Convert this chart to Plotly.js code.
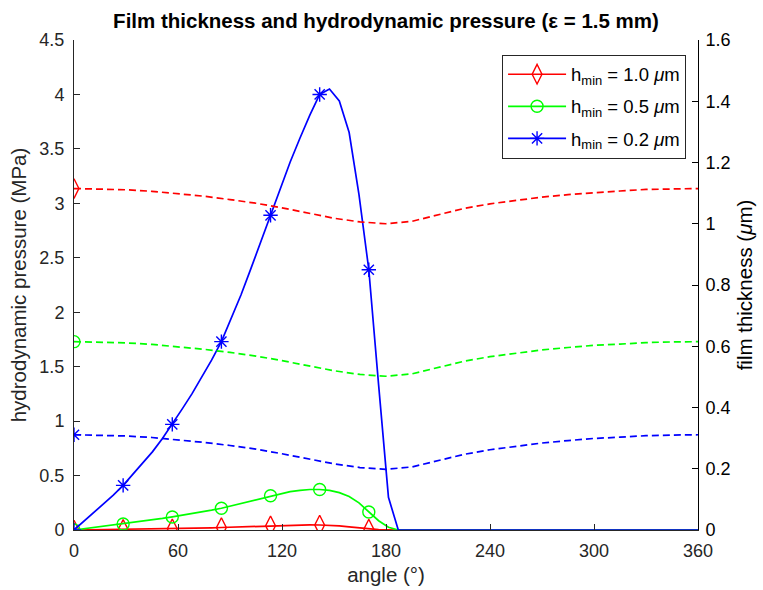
<!DOCTYPE html>
<html><head><meta charset="utf-8">
<script src="https://cdn.plot.ly/plotly-3.0.1.min.js"></script>
<style>html,body{margin:0;padding:0;background:#fff}</style>
</head><body><div id="chart" style="width:763px;height:590px"></div>
<script>
// pressure (MPa) vs angle (deg)
const pAngle = [0, 5.67, 11.34, 17.01, 22.68, 28.35, 34.02, 39.69, 45.35, 51.02, 56.70, 62.36, 68.03, 73.70, 79.37, 85.04, 90.71, 96.38, 102.05, 107.72, 113.39, 119.06, 124.72, 130.39, 136.06, 141.73, 147.40, 153.07, 158.74, 164.41, 170.08, 175.75, 181.42, 187.09, 360];
const pRed   = [0, 0.001, 0.002, 0.003, 0.004, 0.005, 0.006, 0.007, 0.008, 0.009, 0.011, 0.013, 0.015, 0.017, 0.020, 0.023, 0.026, 0.029, 0.033, 0.036, 0.039, 0.042, 0.045, 0.046, 0.047, 0.046, 0.043, 0.037, 0.029, 0.019, 0.009, 0.003, 0.001, 0, 0];
const pGreen = [0, 0.011, 0.022, 0.033, 0.044, 0.055, 0.067, 0.079, 0.092, 0.106, 0.120, 0.134, 0.149, 0.165, 0.182, 0.200, 0.222, 0.245, 0.269, 0.293, 0.315, 0.335, 0.352, 0.364, 0.372, 0.372, 0.364, 0.343, 0.308, 0.249, 0.165, 0.085, 0.025, 0, 0];
const pBlue  = [0, 0.08, 0.16, 0.24, 0.32, 0.41, 0.51, 0.61, 0.72, 0.84, 0.97, 1.11, 1.25, 1.40, 1.56, 1.73, 1.94, 2.16, 2.40, 2.64, 2.89, 3.14, 3.38, 3.60, 3.81, 4.00, 4.05, 3.94, 3.65, 3.08, 2.39, 1.33, 0.30, 0, 0];

// film thickness (um) vs angle (deg)
const tAngle = [0, 15, 30, 45, 60, 75, 90, 105, 120, 135, 150, 165, 180, 195, 210, 225, 240, 255, 270, 285, 300, 315, 330, 345, 360];
const tRed   = [1.115, 1.114, 1.111, 1.106, 1.099, 1.090, 1.079, 1.067, 1.052, 1.035, 1.018, 1.006, 1.000, 1.008, 1.030, 1.050, 1.065, 1.077, 1.087, 1.095, 1.102, 1.107, 1.112, 1.114, 1.115];
const tGreen = [0.615, 0.614, 0.611, 0.606, 0.599, 0.590, 0.580, 0.568, 0.553, 0.536, 0.520, 0.508, 0.502, 0.510, 0.531, 0.551, 0.566, 0.578, 0.588, 0.596, 0.603, 0.607, 0.612, 0.614, 0.615];
const tBlue  = [0.311, 0.310, 0.307, 0.302, 0.295, 0.286, 0.276, 0.264, 0.249, 0.232, 0.216, 0.204, 0.198, 0.206, 0.227, 0.247, 0.262, 0.274, 0.284, 0.292, 0.299, 0.303, 0.308, 0.310, 0.311];

const seriesNames = ['h<sub>min</sub> = 1.0 <i>μ</i>m', 'h<sub>min</sub> = 0.5 <i>μ</i>m', 'h<sub>min</sub> = 0.2 <i>μ</i>m'];
const colors = ['#FF0000', '#00FF00', '#0000FF'];
const symbols = ['diamond-tall-open', 'circle-open', 'asterisk-open'];
const msizes = [14, 12, 12];

const pSeries = [pRed, pGreen, pBlue];
const tSeries = [tRed, tGreen, tBlue];

const traces = [];
// thickness dashed curves (right axis)
tSeries.forEach((t, k) => {
  traces.push({x: tAngle, y: t, yaxis: 'y2', mode: 'lines', showlegend: false,
    line: {color: colors[k], width: 1.7, dash: '7px,4px'}, hoverinfo: 'skip'});
  traces.push({x: [tAngle[0]], y: [t[0]], yaxis: 'y2', mode: 'markers', showlegend: false,
    marker: {symbol: symbols[k], size: msizes[k], color: colors[k], line: {color: colors[k], width: 1.4}}});
});
// pressure curves (left axis)
pSeries.forEach((p, k) => {
  traces.push({x: pAngle, y: p, mode: 'lines', showlegend: false,
    line: {color: colors[k], width: 1.7}});
  const mx = [], my = [];
  for (let i = 0; i <= 30; i += 5) { mx.push(pAngle[i]); my.push(p[i]); }
  traces.push({x: mx, y: my, mode: 'markers', showlegend: false,
    marker: {symbol: symbols[k], size: msizes[k], color: colors[k], line: {color: colors[k], width: 1.4}}});
});
// legend entries
seriesNames.forEach((n, k) => {
  traces.push({x: [null], y: [null], mode: 'lines+markers', name: n, legendgroup: 'g' + k,
    line: {color: colors[k], width: 1.7},
    marker: {symbol: symbols[k], size: msizes[k], color: colors[k], line: {color: colors[k], width: 1.4}}});
});

const fontFam = 'Liberation Sans, Arial, sans-serif';
const layout = {
  width: 763, height: 590,
  margin: {l: 74, r: 65, t: 40, b: 60},
  paper_bgcolor: '#fff', plot_bgcolor: '#fff',
  font: {family: fontFam, size: 18, color: '#262626'},
  title: {text: '<b>Film thickness and hydrodynamic pressure (ε = 1.5 mm)</b>',
    x: 0.5, xref: 'paper', y: 0.964, yanchor: 'middle', font: {size: 20.5, color: '#000'}},
  xaxis: {range: [0, 360], tickvals: [0, 60, 120, 180, 240, 300, 360], ticks: 'inside', ticklen: 6,
    tickcolor: '#262626', showline: true, linecolor: '#262626', linewidth: 1, showgrid: false, zeroline: false,
    ticklabelstandoff: 4,
    title: {text: 'angle (°)', font: {size: 20.5, color: '#262626'}, standoff: 8}},
  yaxis: {range: [0, 4.5], dtick: 0.5, tick0: 0, ticks: 'inside', ticklen: 6,
    tickcolor: '#262626', showline: true, linecolor: '#262626', linewidth: 1, showgrid: false, zeroline: false,
    ticklabelstandoff: 5,
    title: {text: 'hydrodynamic pressure (MPa)', font: {size: 20.5, color: '#262626'}, standoff: 7}},
  yaxis2: {range: [0, 1.6], dtick: 0.2, tick0: 0, overlaying: 'y', side: 'right', ticks: 'inside', ticklen: 6,
    tickcolor: '#000', showline: true, linecolor: '#000', linewidth: 1, showgrid: false, zeroline: false,
    tickfont: {color: '#000'}, ticklabelstandoff: 3,
    title: {text: 'film thickness (<i>μ</i>m)', font: {size: 20.5, color: '#000'}, standoff: 8}},
  legend: {x: 0.686, y: 0.97, xanchor: 'left', yanchor: 'top', bgcolor: '#fff',
    bordercolor: '#262626', borderwidth: 1, font: {size: 18.5, color: '#000'}, itemwidth: 58,
    tracegroupgap: 5}
};
Plotly.newPlot('chart', traces, layout, {displayModeBar: false, staticPlot: true});
</script></body></html>
